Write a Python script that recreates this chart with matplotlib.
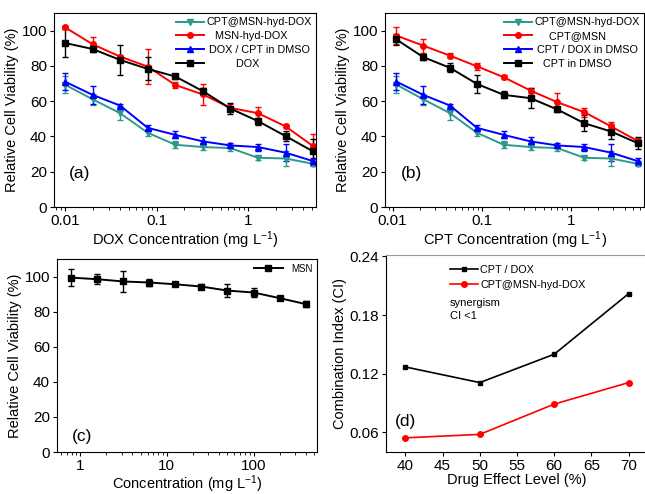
import numpy as np
import matplotlib
matplotlib.use('Agg')
import matplotlib.pyplot as plt
from matplotlib.ticker import FuncFormatter, LogLocator, NullFormatter

plt.rcParams['font.family'] = ['Liberation Sans', 'DejaVu Sans']
plt.rcParams['mathtext.fontset'] = 'custom'
plt.rcParams['mathtext.rm'] = 'Liberation Sans'
plt.rcParams['mathtext.it'] = 'Liberation Sans'

# ---- data ----
# (a) DOX concentrations
dox_conc = [0.01, 0.02, 0.04, 0.08, 0.16, 0.32, 0.64, 1.28, 2.56, 5.12]
# (b) CPT concentrations
cpt_conc = [0.011, 0.022, 0.044, 0.088, 0.176, 0.352, 0.704, 1.41, 2.82, 5.63]

combo_mean = [69.4, 61.1, 53.2, 42.1, 35.3, 34.0, 33.4, 27.9, 27.5, 24.5]
combo_err = [5, 3, 4, 2, 2, 1.5, 1.5, 1, 4, 1.5]
free_combo_mean = [71.1, 63.6, 57.5, 44.9, 40.9, 37.2, 34.9, 34.0, 30.8, 26.0]
free_combo_err = [5, 5, 1, 1.5, 2, 2.5, 1.5, 2, 5, 2]

msn_dox_mean = [101.9, 92.3, 85.3, 79.6, 69.2, 63.8, 56.2, 53.2, 45.7, 34.5]
msn_dox_err = [1, 4, 1, 10, 1.5, 6, 2, 3.5, 1, 7]
dox_mean = [93.0, 89.6, 83.4, 78.3, 74.0, 65.7, 55.8, 48.7, 40.2, 31.5]
dox_err = [8, 1.5, 8.5, 6.5, 1.5, 2, 3, 2, 3, 7]

cpt_msn_mean = [97.2, 91.5, 85.8, 79.8, 73.6, 66.0, 59.4, 53.8, 45.7, 37.4]
cpt_msn_err = [5, 4, 1.5, 2, 1, 1.5, 5, 2.5, 2.5, 2]
cpt_mean = [95.0, 85.0, 78.9, 69.8, 63.6, 61.7, 55.3, 47.5, 42.8, 36.2]
cpt_err = [3, 1.5, 2.5, 5, 2, 5.5, 1.5, 4.5, 4, 3.5]

# (c) bare MSN
msn_conc = [0.78, 1.56, 3.125, 6.25, 12.5, 25, 50, 100, 200, 400]
msn_mean = [99.4, 98.5, 97.2, 96.6, 95.6, 94.3, 92.0, 90.9, 87.7, 84.3]
msn_err = [5, 3, 6, 2, 1, 1.5, 3.5, 2.5, 1, 1.5]

# (d) combination index
effect_level = [40, 50, 60, 70]
ci_free = [0.127, 0.111, 0.140, 0.202]
ci_msn = [0.0545, 0.058, 0.089, 0.111]

teal = '#2b9a8c'
W, H = 645, 494


def rect(l, t, r, b):
    return [l / W, 1 - b / H, (r - l) / W, (b - t) / H]


fig = plt.figure(figsize=(6.45, 4.94), dpi=100)

ax_a = fig.add_axes(rect(54, 13, 316, 207))
ax_b = fig.add_axes(rect(385, 13, 644, 207))
ax_c = fig.add_axes(rect(57, 259, 317, 452))
ax_d = fig.add_axes(rect(386, 255, 648, 452))

tick_fs = 11
lab_fs = 10.5
leg_fs = 7.8


def style_log(ax):
    ax.set_xscale('log')
    ax.xaxis.set_major_formatter(FuncFormatter(lambda v, p: '{:g}'.format(v)))
    ax.xaxis.set_minor_locator(LogLocator(base=10, subs=np.arange(2, 10)))
    ax.xaxis.set_minor_formatter(NullFormatter())
    ax.tick_params(which='major', direction='out', length=3, width=0.8, labelsize=tick_fs, pad=2)
    ax.tick_params(which='minor', direction='out', length=2, width=0.6)
    ax.set_ylim(0, 110)
    ax.set_yticks([0, 20, 40, 60, 80, 100])
    for s in ax.spines.values():
        s.set_linewidth(0.8)


def draw(ax, x, y, e, color, marker):
    c = ax.errorbar(x, y, yerr=e, color=color, marker=marker, markersize=4,
                    linewidth=1.4, elinewidth=1, capsize=2, capthick=1)
    return c[0]


# (a)
hs = [draw(ax_a, dox_conc, combo_mean, combo_err, teal, 'v'),
      draw(ax_a, dox_conc, msn_dox_mean, msn_dox_err, 'red', 'o'),
      draw(ax_a, dox_conc, free_combo_mean, free_combo_err, 'blue', '^'),
      draw(ax_a, dox_conc, dox_mean, dox_err, 'black', 's')]
labels_a = ['CPT@MSN-hyd-DOX', '   MSN-hyd-DOX', ' DOX / CPT in DMSO', '          DOX']
style_log(ax_a)
ax_a.set_xlim(0.0076, 5.5)
ax_a.set_xlabel(r'DOX Concentration (mg L$^{-1}$)', fontsize=lab_fs, labelpad=1)
ax_a.set_ylabel('Relative Cell Viability (%)', fontsize=lab_fs, labelpad=2)
ax_a.legend(hs, labels_a, loc='upper right', fontsize=leg_fs, frameon=False, handlelength=2.6,
            handletextpad=0.2, labelspacing=0.35, borderaxespad=0.2, borderpad=0.2)
ax_a.text(0.011, 19, '(a)', fontsize=12.5, va='center')

# (b)
hs = [draw(ax_b, cpt_conc, combo_mean, combo_err, teal, 'v'),
      draw(ax_b, cpt_conc, cpt_msn_mean, cpt_msn_err, 'red', 'o'),
      draw(ax_b, cpt_conc, free_combo_mean, free_combo_err, 'blue', '^'),
      draw(ax_b, cpt_conc, cpt_mean, cpt_err, 'black', 's')]
labels_b = ['CPT@MSN-hyd-DOX', '     CPT@MSN', ' CPT / DOX in DMSO', '   CPT in DMSO']
style_log(ax_b)
ax_b.set_xlim(0.0082, 6.6)
ax_b.set_xlabel(r'CPT Concentration (mg L$^{-1}$)', fontsize=lab_fs, labelpad=1)
ax_b.set_ylabel('Relative Cell Viability (%)', fontsize=lab_fs, labelpad=2)
ax_b.legend(hs, labels_b, loc='upper right', fontsize=leg_fs, frameon=False, handlelength=2.6,
            handletextpad=0.2, labelspacing=0.35, borderaxespad=0.2, borderpad=0.2)
ax_b.text(0.0125, 19, '(b)', fontsize=12.5, va='center')

# (c)
hs = [draw(ax_c, msn_conc, msn_mean, msn_err, 'black', 's')]
style_log(ax_c)
ax_c.set_xlim(0.54, 540)
ax_c.set_xlabel(r'Concentration (mg L$^{-1}$)', fontsize=lab_fs, labelpad=0)
ax_c.set_ylabel('Relative Cell Viability (%)', fontsize=lab_fs, labelpad=2)
ax_c.legend(hs, ['MSN'], loc='upper right', fontsize=7, frameon=False, handlelength=3,
            handletextpad=0.8, borderaxespad=0.3, borderpad=0.2)
ax_c.text(0.8, 9, '(c)', fontsize=12.5, va='center')

# (d)
ax_d.plot(effect_level, ci_free, color='black', marker='s', markersize=3.5,
          linewidth=1.2, label='CPT / DOX')
ax_d.plot(effect_level, ci_msn, color='red', marker='o', markersize=4,
          linewidth=1.2, label='CPT@MSN-hyd-DOX')
ax_d.set_xlim(37.4, 72.6)
ax_d.set_ylim(0.04, 0.2415)
ax_d.set_xticks([40, 45, 50, 55, 60, 65, 70])
ax_d.set_yticks([0.06, 0.12, 0.18, 0.24])
ax_d.yaxis.set_major_formatter(FuncFormatter(lambda v, p: '{:.2f}'.format(v)))
ax_d.tick_params(direction='out', length=3, width=0.8, labelsize=tick_fs, pad=2)
ax_d.spines['right'].set_visible(False)
ax_d.spines['top'].set_color('#999999')
ax_d.spines['left'].set_linewidth(0.8)
ax_d.spines['bottom'].set_linewidth(0.8)
ax_d.set_xlabel('Drug Effect Level (%)', fontsize=lab_fs, labelpad=0)
ax_d.set_ylabel('Combination Index (CI)', fontsize=lab_fs, labelpad=2)
ax_d.legend(loc='upper left', bbox_to_anchor=(0.215, 0.99), fontsize=leg_fs, frameon=False,
            handlelength=2.6, handletextpad=0.2, labelspacing=0.5, borderpad=0.2)
ax_d.text(0.245, 0.78, 'synergism\nCI <1', transform=ax_d.transAxes, fontsize=8,
          va='top', linespacing=1.3)
ax_d.text(38.6, 0.0715, '(d)', fontsize=12.5, va='center')

fig.savefig('out.png', dpi=100)
